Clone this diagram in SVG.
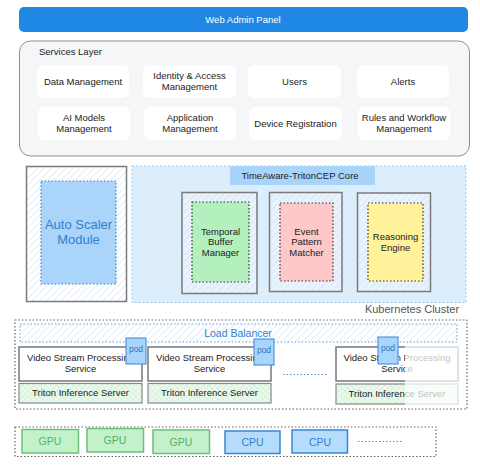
<svg xmlns="http://www.w3.org/2000/svg" width="480" height="466" viewBox="0 0 480 466">
<defs>
<pattern id="hatch" patternUnits="userSpaceOnUse" width="5" height="5" patternTransform="rotate(45)">
<rect width="5" height="5" fill="#ffffff"/>
<line x1="0" y1="0" x2="0" y2="5" stroke="#cfe4f7" stroke-width="1.2"/>
</pattern>
<pattern id="hatchb" patternUnits="userSpaceOnUse" width="5" height="5" patternTransform="rotate(45)">
<rect width="5" height="5" fill="#e8f3fd"/>
<line x1="0" y1="0" x2="0" y2="5" stroke="#cde2f4" stroke-width="1.2"/>
</pattern>
<pattern id="xhatch" patternUnits="userSpaceOnUse" width="4" height="4" patternTransform="rotate(45)">
<rect width="4" height="4" fill="#eefaf0"/>
<line x1="0" y1="0" x2="0" y2="4" stroke="#c4ecc9" stroke-width="1"/>
<line x1="0" y1="0" x2="4" y2="0" stroke="#c4ecc9" stroke-width="1"/>
</pattern>
</defs>
<style>
text{font-family:"Liberation Sans",Arial,sans-serif;text-anchor:middle}
.t{font-size:9.5px;fill:#222}
.svc{fill:#ffffff}
.outer{stroke:#7a7a7a;stroke-width:1.5}
.inner{stroke:#333;stroke-width:1.2;stroke-dasharray:1.5 2}
.vid{fill:#ffffff;stroke:#777;stroke-width:1.5}
.tri{fill:url(#xhatch);stroke:#888;stroke-width:1.2}
.pod{fill:#a8d5fb;stroke:#3d84d6;stroke-width:1}
.podt{font-size:8.5px;fill:#2f6fc0}
.gpu{fill:#c2f1ca;stroke:#6cc07a;stroke-width:1.5}
.gput{font-size:10.5px;fill:#55b265}
.cpu{fill:#b6dcfc;stroke:#3d84d6;stroke-width:1.5}
.cput{font-size:10.5px;fill:#2f7fd0}
</style>

<g id="web-admin-panel">
<rect x="19" y="7" width="449" height="25" rx="5" fill="#1f88e5"/>
<text x="243" y="23" style="font-size:9.5px;fill:#ffffff">Web Admin Panel</text>
</g>

<g id="services-layer">
<rect x="19.5" y="41" width="450" height="115" rx="11" fill="#f5f6f8" stroke="#8e8e8e" stroke-width="1"/>
<text x="39" y="55" class="t" style="text-anchor:start">Services Layer</text>
</g>
<g id="svc-data"><rect class="svc" x="37" y="65" width="92" height="33" rx="6"/><text class="t" x="83" y="84.5">Data Management</text></g>
<g id="svc-identity"><rect class="svc" x="143" y="65" width="93" height="33" rx="6"/><text class="t" x="189.5" y="78.5">Identity &amp; Access</text><text class="t" x="189.5" y="89.5">Management</text></g>
<g id="svc-users"><rect class="svc" x="248" y="65" width="93" height="33" rx="6"/><text class="t" x="294.5" y="84.5">Users</text></g>
<g id="svc-alerts"><rect class="svc" x="357" y="65" width="92" height="33" rx="6"/><text class="t" x="403" y="84.5">Alerts</text></g>
<g id="svc-ai"><rect class="svc" x="38" y="107" width="92" height="33" rx="6"/><text class="t" x="84" y="121">AI Models</text><text class="t" x="84" y="132">Management</text></g>
<g id="svc-app"><rect class="svc" x="144" y="107" width="92" height="33" rx="6"/><text class="t" x="190" y="121">Application</text><text class="t" x="190" y="132">Management</text></g>
<g id="svc-device"><rect class="svc" x="249" y="107" width="93" height="33" rx="6"/><text class="t" x="295.5" y="126.5">Device Registration</text></g>
<g id="svc-rules"><rect class="svc" x="358" y="107" width="92" height="33" rx="6"/><text class="t" x="404" y="121">Rules and Workflow</text><text class="t" x="404" y="132">Management</text></g>

<g id="auto-scaler">
<rect x="26.5" y="166.5" width="100" height="135" fill="url(#hatch)" class="outer"/>
<rect x="41" y="181" width="75" height="103" fill="#aad4fa" stroke="#3d84d6" stroke-width="1.2" stroke-dasharray="1.5 2"/>
<text x="78.5" y="229" style="font-size:13px;fill:#2f7fd0">Auto Scaler</text>
<text x="78.5" y="244" style="font-size:13px;fill:#2f7fd0">Module</text>
</g>

<g id="kubernetes-cluster">
<rect x="132" y="166" width="334" height="136.5" fill="#dcedfc" stroke="#9cc8ee" stroke-width="1" stroke-dasharray="2 2"/>
<text x="412" y="313" style="font-size:11px;fill:#555">Kubernetes Cluster</text>
</g>

<g id="core-label">
<rect x="230" y="166" width="145" height="19" fill="#a9d4fa"/>
<text class="t" x="300" y="178.5">TimeAware-TritonCEP Core</text>
</g>

<g id="temporal-buffer">
<rect x="182" y="192.5" width="75" height="101" fill="url(#hatchb)" class="outer"/>
<rect x="192" y="202" width="57" height="80" fill="#b3f0be" class="inner"/>
<text class="t" x="220.5" y="234.5">Temporal</text>
<text class="t" x="220.5" y="245">Buffer</text>
<text class="t" x="220.5" y="255.5">Manager</text>
</g>

<g id="event-pattern">
<rect x="269.5" y="192.5" width="72.5" height="99" fill="url(#hatchb)" class="outer"/>
<rect x="280" y="203" width="53" height="78" fill="#ffc8c8" class="inner"/>
<text class="t" x="306.5" y="234.5">Event</text>
<text class="t" x="306.5" y="245">Pattern</text>
<text class="t" x="306.5" y="255.5">Matcher</text>
</g>

<g id="reasoning-engine">
<rect x="357.5" y="193" width="73" height="98.5" fill="url(#hatchb)" class="outer"/>
<rect x="368" y="203" width="55" height="78" fill="#fff29b" class="inner"/>
<text class="t" x="395.5" y="240">Reasoning</text>
<text class="t" x="395.5" y="250.5">Engine</text>
</g>

<g id="pods-section">
<rect x="15" y="320" width="452" height="89" fill="none" stroke="#666" stroke-width="1.2" stroke-dasharray="1.5 2"/>
</g>

<g id="load-balancer">
<rect x="20" y="324" width="437" height="18" fill="url(#hatch)" stroke="#5a9ee0" stroke-width="1" stroke-dasharray="1.5 2"/>
<text x="238" y="337" style="font-size:10.5px;fill:#2f7fd0">Load Balancer</text>
</g>

<g id="pod-1">
<rect class="vid" x="19" y="347" width="123" height="34"/>
<text class="t" x="80.5" y="361">Video Stream Processing</text>
<text class="t" x="80.5" y="372">Service</text>
<rect class="tri" x="19" y="383.5" width="123" height="19.5"/>
<text class="t" x="80.5" y="396">Triton Inference Server</text>
<rect class="pod" x="126" y="338" width="20" height="26"/>
<text class="podt" x="136" y="352">pod</text>
</g>

<g id="pod-2">
<rect class="vid" x="148" y="347" width="123" height="34"/>
<text class="t" x="209.5" y="361">Video Stream Processing</text>
<text class="t" x="209.5" y="372">Service</text>
<rect class="tri" x="148" y="383.5" width="123" height="19.5"/>
<text class="t" x="209.5" y="396">Triton Inference Server</text>
<rect class="pod" x="254" y="339" width="20" height="26"/>
<text class="podt" x="264" y="353">pod</text>
</g>

<g id="pod-3">
<rect class="vid" x="336" y="347" width="122" height="34"/>
<text class="t" x="397" y="361">Video Stream Processing</text>
<text class="t" x="397" y="372">Service</text>
<rect class="tri" x="336" y="384" width="122" height="20"/>
<text class="t" x="397" y="397">Triton Inference Server</text>
<rect x="405" y="345" width="55" height="60.5" fill="#ffffff" opacity="0.72"/>
<rect class="pod" x="378" y="337" width="20" height="27"/>
<text class="podt" x="388" y="351">pod</text>
</g>

<g id="connectors">
<line x1="283" y1="374.5" x2="328" y2="374.5" stroke="#4a8fd8" stroke-width="1" stroke-dasharray="1.5 2"/>
<line x1="358" y1="441.5" x2="403" y2="441.5" stroke="#4a8fd8" stroke-width="1" stroke-dasharray="1.5 2"/>
</g>

<g id="hardware">
<rect x="15" y="427" width="421" height="29.5" fill="none" stroke="#666" stroke-width="1.2" stroke-dasharray="1.5 2"/>
</g>
<g id="gpu-1"><rect class="gpu" x="22" y="429.5" width="56.5" height="23.5"/><text class="gput" x="50" y="445">GPU</text></g>
<g id="gpu-2"><rect class="gpu" x="87" y="428.5" width="56.5" height="23.5"/><text class="gput" x="115" y="444">GPU</text></g>
<g id="gpu-3"><rect class="gpu" x="153" y="430" width="56.5" height="23.5"/><text class="gput" x="181" y="445.5">GPU</text></g>
<g id="cpu-1"><rect class="cpu" x="225" y="431" width="55" height="22.5"/><text class="cput" x="252.5" y="446">CPU</text></g>
<g id="cpu-2"><rect class="cpu" x="292" y="430" width="55.5" height="23"/><text class="cput" x="320" y="445.5">CPU</text></g>
</svg>
